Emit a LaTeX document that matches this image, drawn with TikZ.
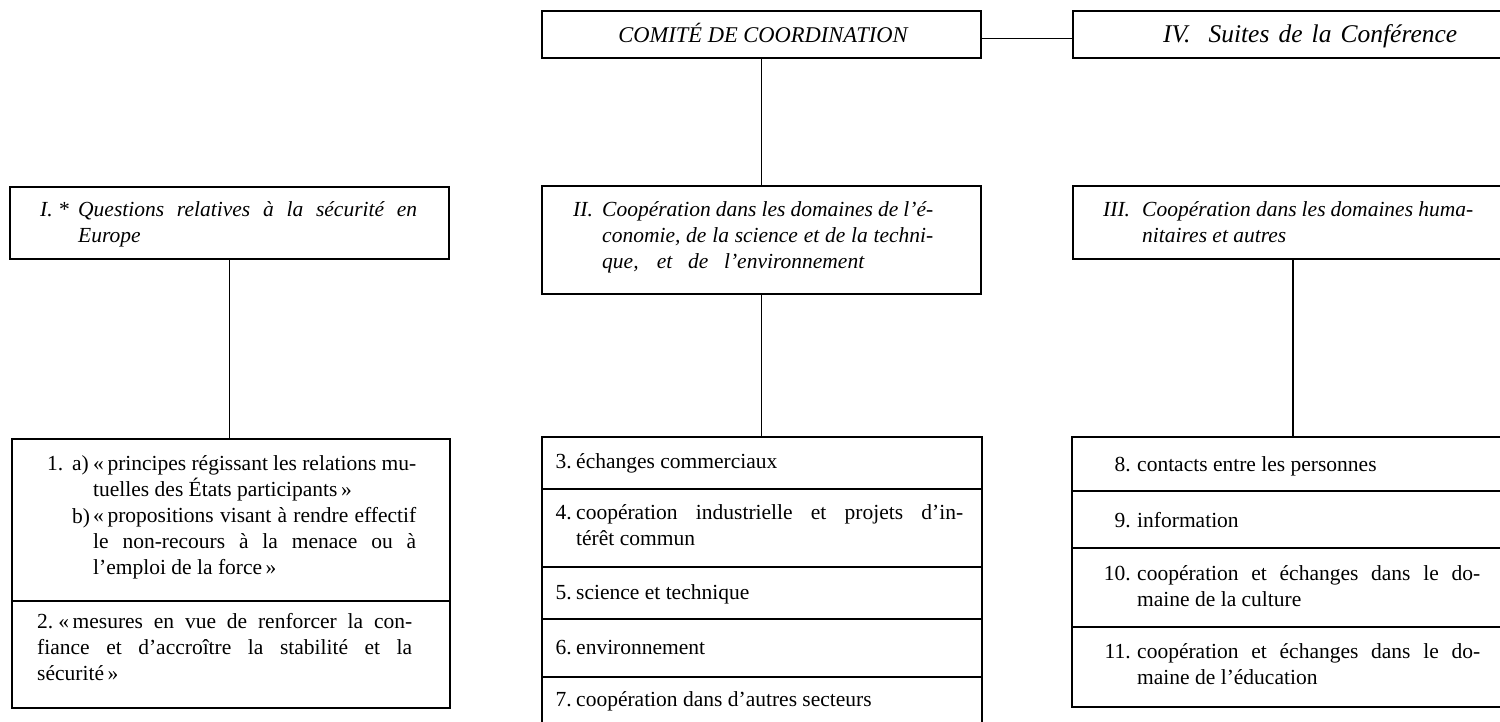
\documentclass[tikz,border=0pt]{standalone}
\usepackage{fontspec}
\setmainfont{Liberation Serif}
\usetikzlibrary{fit}
\newcommand{\justline}[2]{\makebox[#1][s]{#2}}
\begin{document}
\begin{tikzpicture}[x=1pt,y=-1pt,
  box/.style={draw, line width=1.5pt, inner sep=0pt},
  txt/.style={inner sep=0pt, anchor=base west, font=\fontsize{21.5}{26}\selectfont},
  itxt/.style={inner sep=0pt, anchor=base west, font=\fontsize{21.5}{26}\selectfont\itshape},
  ttl/.style={inner sep=0pt, font=\fontsize{22.5}{26}\selectfont\itshape},
  bigttl/.style={inner sep=0pt, font=\fontsize{25.5}{28}\selectfont\itshape},
  num/.style={inner sep=0pt, anchor=base east, font=\fontsize{21.5}{26}\selectfont},
  link/.style={line width=1.5pt}]
\useasboundingbox (0,0) rectangle (1500,721);
\clip (0,0) rectangle (1500,721);

% top row
\node[box, fit={(542,11) (981,58)}] (com) {};
\node[box, fit={(1073,11) (1513,58)}] (iv) {};
\node[ttl, anchor=base] (tcom) at (763,42) {COMITÉ DE COORDINATION};
\node[bigttl, anchor=base west] (tiv) at (1163,42) {\justline{294pt}{IV.\ \ Suites de la Conférence}};

% heading boxes
\node[box, fit={(10,187) (449,259)}] (h1) {};
\node[box, fit={(542,186) (981,294)}] (h2) {};
\node[box, fit={(1073,186) (1513,259)}] (h3) {};

\node[itxt] (l1) at (40,216) {I. *};
\node[itxt] (b1) at (78,216) {\parbox[t]{339pt}{\justline{339pt}{Questions relatives à la sécurité en}\\Europe}};
\node[itxt] (l2) at (573,216) {II.};
\node[itxt] (b2) at (602,216) {\parbox[t]{331pt}{\justline{331pt}{Coopération dans les domaines de l'é-}\\\justline{331pt}{conomie, de la science et de la techni-}\\\justline{262pt}{que, et de l'environnement}}};
\node[itxt] (l3) at (1103,216) {III.};
\node[itxt] (b3) at (1142,216) {\parbox[t]{331pt}{\justline{331pt}{Coopération dans les domaines huma-}\\nitaires et autres}};

% bottom cells, left
\node[box, fit={(12,439) (450,601)}] (c1) {};
\node[box, fit={(12,601) (450,708)}] (c2) {};
\node[txt] (n1) at (47,470) {1.};
\node[txt] (na) at (72,470) {a)};
\node[txt] (nb) at (72,523) {b)};
\node[txt] (t1) at (93,470) {\parbox[t]{323pt}{\justline{323pt}{«\,principes régissant les relations mu-}\\tuelles des États participants\,»\\\justline{323pt}{«\,propositions visant à rendre effectif}\\\justline{323pt}{le non-recours à la menace ou à}\\l'emploi de la force\,»}};
\node[txt] (t2) at (37,628) {\parbox[t]{375pt}{\justline{375pt}{2.\hspace{5pt}«\,mesures en vue de renforcer la con-}\\\justline{375pt}{fiance et d'accroître la stabilité et la}\\sécurité\,»}};

% bottom cells, middle
\node[box, fit={(542,437) (982,489)}] (c3) {};
\node[box, fit={(542,489) (982,567)}] (c4) {};
\node[box, fit={(542,567) (982,619)}] (c5) {};
\node[box, fit={(542,619) (982,677)}] (c6) {};
\node[box, fit={(542,677) (982,735)}] (c7) {};
\node[num] (n3) at (572,468) {3.};
\node[txt] (t3) at (576,468) {échanges commerciaux};
\node[num] (n4) at (572,519) {4.};
\node[txt] (t4) at (576,519) {\parbox[t]{387pt}{\justline{387pt}{coopération industrielle et projets d'in-}\\térêt commun}};
\node[num] (n5) at (572,599) {5.};
\node[txt] (t5) at (576,599) {science et technique};
\node[num] (n6) at (572,654) {6.};
\node[txt] (t6) at (576,654) {environnement};
\node[num] (n7) at (572,706) {7.};
\node[txt] (t7) at (576,706) {coopération dans d'autres secteurs};

% bottom cells, right
\node[box, fit={(1072,437) (1513,491)}] (c8) {};
\node[box, fit={(1072,491) (1513,548)}] (c9) {};
\node[box, fit={(1072,548) (1513,627)}] (c10) {};
\node[box, fit={(1072,627) (1513,707)}] (c11) {};
\node[num] (n8) at (1131,471) {8.};
\node[txt] (t8) at (1137,471) {contacts entre les personnes};
\node[num] (n9) at (1131,527) {9.};
\node[txt] (t9) at (1137,527) {information};
\node[num] (n10) at (1131,580) {10.};
\node[txt] (t10) at (1137,580) {\parbox[t]{343pt}{\justline{343pt}{coopération et échanges dans le do-}\\maine de la culture}};
\node[num] (n11) at (1131,658) {11.};
\node[txt] (t11) at (1137,658) {\parbox[t]{343pt}{\justline{343pt}{coopération et échanges dans le do-}\\maine de l'éducation}};

% connectors
\draw[link] ([yshift=-4pt]com.east) -- ([yshift=-4pt]iv.west);
\draw[link] (com.south) -- (h2.north);
\draw[link] (h1.south) -- (h1.south |- c1.north);
\draw[link] (h2.south) -- (h2.south |- c3.north);
\draw[link] (h3.south) -- (h3.south |- c8.north);
\end{tikzpicture}
\end{document}
